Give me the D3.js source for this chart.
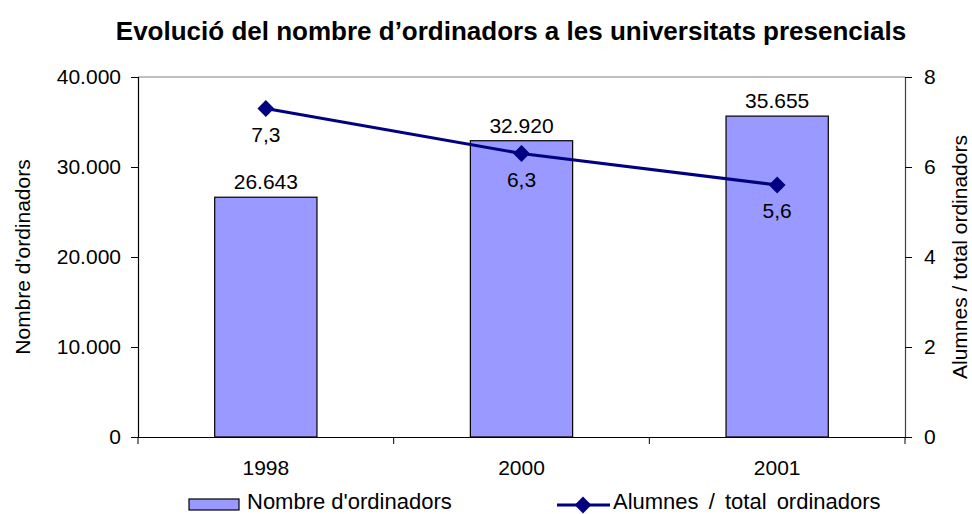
<!DOCTYPE html>
<html>
<head>
<meta charset="utf-8">
<script src="https://cdn.jsdelivr.net/npm/d3@7"></script>
<style>
  body { margin: 0; background: #fff; }
  svg { font-family: "Liberation Sans", Arial, sans-serif; }
</style>
</head>
<body>
<svg width="972" height="514"></svg>
<script>
// chart data
var years = ["1998", "2000", "2001"],
    computers = [26643, 32920, 35655],
    ratio = [7.3, 6.3, 5.6],
    leftTicks = [0, 10000, 20000, 30000, 40000],
    rightTicks = [0, 2, 4, 6, 8]
;

// "26.643" / "7,3" style numbers
var fmtThousands = d3.formatLocale({decimal: ",", thousands: ".", grouping: [3], currency: ["", ""]}).format(",.0f"),
    fmtDecimal = d => d3.format(".1f")(d).replace(".", ",");

var svg = d3.select("svg"),
    plotLeft = 138, plotRight = 905, plotTop = 77, plotBottom = 437,
    x = d3.scaleBand().domain(years).range([plotLeft, plotRight]).paddingInner(0.6).paddingOuter(0.3),
    xb = d3.scaleBand().domain(years).range([plotLeft, plotRight]),
    yL = d3.scaleLinear().domain([0, 40000]).range([plotBottom, plotTop]),
    yR = d3.scaleLinear().domain([0, 8]).range([plotBottom, plotTop])
;

// plot area top border
svg.append("line")
    .attr("x1", plotLeft).attr("x2", plotRight).attr("y1", plotTop).attr("y2", plotTop)
    .style("stroke", "#808080").style("stroke-width", 1);

// bars
svg.selectAll(".bar")
    .data(computers)
    .enter().append("rect")
    .attr("x", (d, i) => x(years[i]))
    .attr("y", d => yL(d))
    .attr("width", x.bandwidth())
    .attr("height", d => plotBottom - yL(d))
    .style("fill", "#9999ff")
    .style("stroke", "#000")
    .style("stroke-width", 1.2);

// axes
var axL = svg.append("g")
    .attr("transform", "translate(" + plotLeft + ",0)")
    .call(d3.axisLeft(yL).tickValues(leftTicks).tickFormat(fmtThousands).tickSize(7).tickPadding(10));

var axR = svg.append("g")
    .attr("transform", "translate(" + plotRight + ",0)")
    .call(d3.axisRight(yR).tickValues(rightTicks).tickSize(7).tickPadding(12));

var axB = svg.append("g")
    .attr("transform", "translate(0," + plotBottom + ")")
    .call(d3.axisBottom(xb).tickSize(0).tickPadding(23));

// category separators on the x axis
axB.selectAll(".sep")
    .data(years.concat([null]))
    .enter().append("line")
    .attr("x1", (d, i) => plotLeft + i * xb.step())
    .attr("x2", (d, i) => plotLeft + i * xb.step())
    .attr("y1", 0).attr("y2", 7)
    .style("stroke", "#000");

[axL, axR, axB].forEach(function (a) {
    a.select(".domain").style("stroke", "#000").style("stroke-width", 1.2);
    a.selectAll("text").style("font-size", "21px").style("fill", "#000")
        .style("font-family", "Liberation Sans, Arial, sans-serif");
    a.selectAll(".tick line").style("stroke", "#000");
});
axR.select(".domain").style("stroke", "#404040");

// bar value labels
svg.selectAll(".barlabel")
    .data(computers)
    .enter().append("text")
    .attr("x", (d, i) => x(years[i]) + x.bandwidth() / 2)
    .attr("y", d => yL(d) - 8)
    .attr("text-anchor", "middle")
    .style("font-size", "21px")
    .text(d => fmtThousands(d));

// ratio line
var line = d3.line()
    .x((d, i) => xb(years[i]) + xb.bandwidth() / 2)
    .y(d => yR(d));

svg.append("path")
    .datum(ratio)
    .attr("d", line)
    .style("fill", "none")
    .style("stroke", "#000080")
    .style("stroke-width", 3);

var diamond = d3.symbol().type(d3.symbolDiamond2).size(180);

svg.selectAll(".pt")
    .data(ratio)
    .enter().append("path")
    .attr("d", diamond)
    .attr("transform", (d, i) => "translate(" + (xb(years[i]) + xb.bandwidth() / 2) + "," + yR(d) + ")")
    .style("fill", "#000080");

svg.selectAll(".ptlabel")
    .data(ratio)
    .enter().append("text")
    .attr("x", (d, i) => xb(years[i]) + xb.bandwidth() / 2)
    .attr("y", d => yR(d) + 33)
    .attr("text-anchor", "middle")
    .style("font-size", "21px")
    .text(d => fmtDecimal(d));

// title
svg.append("text")
    .attr("x", 511).attr("y", 40)
    .attr("text-anchor", "middle")
    .style("font-size", "26px")
    .style("font-weight", "bold")
    .text("Evolució del nombre d’ordinadors a les universitats presencials");

// axis titles
svg.append("text")
    .attr("transform", "translate(30," + (plotTop + plotBottom) / 2 + ") rotate(-90)")
    .attr("text-anchor", "middle")
    .style("font-size", "21px")
    .text("Nombre d'ordinadors");

svg.append("text")
    .attr("transform", "translate(967," + (plotTop + plotBottom) / 2 + ") rotate(-90)")
    .attr("text-anchor", "middle")
    .style("font-size", "21px")
    .text("Alumnes / total ordinadors");

// legend
var lg = svg.append("g");
lg.append("rect")
    .attr("x", 189).attr("y", 499).attr("width", 50).attr("height", 11)
    .style("fill", "#9999ff").style("stroke", "#000").style("stroke-width", 1.2);
lg.append("text")
    .attr("x", 247).attr("y", 509)
    .style("font-size", "22px")
    .text("Nombre d'ordinadors");
lg.append("line")
    .attr("x1", 557).attr("x2", 610).attr("y1", 505).attr("y2", 505)
    .style("stroke", "#000080").style("stroke-width", 3);
lg.append("path")
    .attr("d", diamond)
    .attr("transform", "translate(583,505)")
    .style("fill", "#000080");
lg.append("text")
    .attr("x", 613).attr("y", 509)
    .style("font-size", "22px")
    .style("word-spacing", "4px")
    .text("Alumnes / total ordinadors");
</script>
</body>
</html>
